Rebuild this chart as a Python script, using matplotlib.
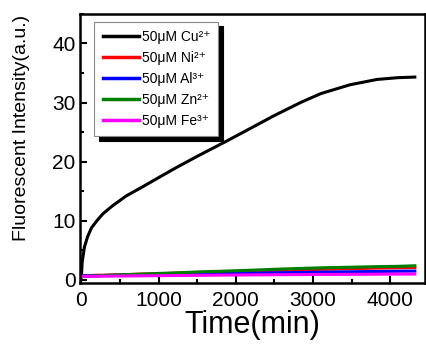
import matplotlib
matplotlib.use('Agg', force=True)
import matplotlib.pyplot as plt
from matplotlib.ticker import MultipleLocator

plt.rcParams['font.family'] = ['Liberation Sans', 'DejaVu Sans']

# time points (min)
t = [0, 10, 40, 80, 130, 200, 280, 400, 580, 800, 1000, 1230, 1500, 1870,
     2200, 2500, 2840, 3100, 3480, 3830, 4100, 4320]
cu = [0.5, 3.0, 5.6, 7.3, 8.8, 10.0, 11.2, 12.5, 14.2, 15.8, 17.3, 19.0, 20.9,
      23.4, 25.7, 27.8, 30.0, 31.5, 33.0, 33.9, 34.2, 34.3]
ni = [0.7, 0.7, 0.7, 0.7, 0.75, 0.8, 0.8, 0.85, 0.9, 1.0, 1.05, 1.15, 1.25,
      1.4, 1.5, 1.6, 1.7, 1.8, 1.9, 2.0, 2.05, 2.1]
al = [0.7, 0.7, 0.7, 0.7, 0.7, 0.72, 0.75, 0.78, 0.82, 0.87, 0.9, 0.95, 1.0,
      1.08, 1.15, 1.2, 1.27, 1.32, 1.38, 1.43, 1.47, 1.5]
zn = [0.6, 0.6, 0.6, 0.62, 0.65, 0.7, 0.75, 0.8, 0.9, 1.0, 1.1, 1.2, 1.35,
      1.5, 1.65, 1.8, 1.95, 2.05, 2.15, 2.25, 2.3, 2.4]
fe = [0.6, 0.6, 0.6, 0.6, 0.6, 0.62, 0.63, 0.65, 0.67, 0.7, 0.72, 0.75, 0.78,
      0.82, 0.85, 0.88, 0.91, 0.93, 0.95, 0.97, 0.99, 1.0]

series = [
    ('50μM Cu²⁺', cu, 'black'),
    ('50μM Ni²⁺', ni, '#ff0000'),
    ('50μM Al³⁺', al, '#0000ff'),
    ('50μM Zn²⁺', zn, '#008000'),
    ('50μM Fe³⁺', fe, '#ff00ff'),
]

fig = plt.figure(figsize=(4.27, 3.45), dpi=100)
ax = fig.add_axes([0.187, 0.18, 0.808, 0.78])

for label, y, c in series:
    ax.plot(t, y, color=c, lw=2.2, label=label)

ax.set_xlim(-20, 4450)
ax.set_ylim(-0.5, 45)
ax.xaxis.set_major_locator(MultipleLocator(1000))
ax.xaxis.set_minor_locator(MultipleLocator(500))
ax.yaxis.set_major_locator(MultipleLocator(10))
ax.yaxis.set_minor_locator(MultipleLocator(5))
ax.tick_params(which='both', direction='in', width=1.5, labelsize=15)
ax.tick_params(axis='x', pad=6)
ax.tick_params(axis='y', pad=3)
ax.tick_params(which='major', length=5)
ax.tick_params(which='minor', length=3)
for s in ax.spines.values():
    s.set_linewidth(1.8)

ax.set_xlabel('Time(min)', fontsize=22, labelpad=0)
ax.set_ylabel('Fluorescent Intensity(a.u.)', fontsize=14)
ax.yaxis.set_label_coords(-0.145, 0.576)

leg = ax.legend(loc='upper left', bbox_to_anchor=(0.03, 0.985), fontsize=10,
                frameon=True, fancybox=False, edgecolor='#888888',
                shadow={'color': 'black', 'alpha': 1.0, 'ox': 3, 'oy': -3},
                handlelength=2.6, handletextpad=0.2, labelspacing=0.5,
                borderpad=0.6, borderaxespad=0.3)
leg.get_frame().set_linewidth(0.8)
for h in leg.get_lines():
    h.set_linewidth(2.5)

fig.savefig('out.png', dpi=100)
